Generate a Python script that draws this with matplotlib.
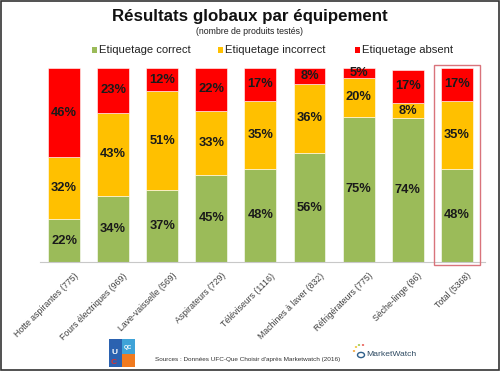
import matplotlib
matplotlib.use("Agg")
import matplotlib.pyplot as plt
from matplotlib.patches import Rectangle, Circle
import matplotlib.transforms as mtrans
import numpy as np

categories = ["Hotte aspirantes (775)", "Fours électriques (969)", "Lave-vaisselle (569)",
              "Aspirateurs (729)", "Téléviseurs (1116)", "Machines à laver (832)",
              "Réfrigérateurs (775)", "Sèche-linge (86)", "Total (5368)"]
correct = [22, 34, 37, 45, 48, 56, 75, 74, 48]
incorrect = [32, 43, 51, 33, 35, 36, 20, 8, 35]
absent = [46, 23, 12, 22, 17, 8, 5, 17, 17]
series_names = ["Etiquetage correct", "Etiquetage incorrect", "Etiquetage absent"]
colors = ["#9BBB59", "#FFC000", "#FF0000"]

plt.rcParams['font.family'] = ['Liberation Sans', 'DejaVu Sans']

W, H = 500, 371
fig = plt.figure(figsize=(5, 3.71), dpi=100)

def fx(x):
    return x / W

def fy(y):
    return 1 - y / H

ax_l, ax_r, ax_t, ax_b = 40, 485, 68, 262
ax = fig.add_axes([fx(ax_l), fy(ax_b), fx(ax_r - ax_l), (ax_b - ax_t) / H])

x = np.arange(len(categories))
bw = 0.65
bottom = np.zeros(len(categories))
for vals, col in zip([correct, incorrect, absent], colors):
    vals = np.array(vals, dtype=float)
    ax.bar(x, vals, bw, bottom=bottom, color=col, edgecolor="white", linewidth=0.4)
    for xi, b, v in zip(x, bottom, vals):
        ax.text(xi, b + v / 2, f"{int(v)}%", ha="center", va="center",
                fontsize=9.3, fontweight="bold", color="#1a1a1a")
    bottom += vals

spacing = 49.1
ax.set_xlim(-(64 - ax_l) / spacing, (ax_r - 64) / spacing)
ax.set_ylim(0, 100)
ax.set_yticks([])
ax.set_xticks(x)
ax.set_xticklabels(categories, rotation=45, ha="right", rotation_mode="anchor",
                   fontsize=6.3, color="#404040")
ax.tick_params(axis="x", length=0, pad=9)
offset = mtrans.ScaledTranslation(13 / 100, 0, fig.dpi_scale_trans)
for lbl in ax.get_xticklabels():
    lbl.set_va("center")
    lbl.set_transform(lbl.get_transform() + offset)
for s in ["top", "right", "left"]:
    ax.spines[s].set_visible(False)
ax.spines["bottom"].set_color("#c8c8c8")
ax.spines["bottom"].set_linewidth(0.8)

# Title
fig.text(fx(250), fy(16), "Résultats globaux par équipement", ha="center", va="center",
         fontsize=12.2, fontweight="bold", color="#111111")
fig.text(fx(250), fy(32), "(nombre de produits testés)", ha="center", va="center",
         fontsize=6.3, color="#222222")

# Legend
leg_sq = [94, 220, 357]
for sx, name, col in zip(leg_sq, series_names, colors):
    fig.patches.append(Rectangle((fx(sx - 2.5), fy(52.5)), 5 / W, 5 / H, transform=fig.transFigure,
                                 facecolor=col, edgecolor="none"))
    fig.text(fx(sx + 5), fy(50), name, ha="left", va="center", fontsize=8.1, color="#222222")

# Red highlight box around Total
fig.patches.append(Rectangle((fx(434), fy(265)), (480 - 434) / W, (265 - 65) / H,
                             transform=fig.transFigure, facecolor="none",
                             edgecolor="#D9737B", linewidth=1.0))

# Source text
fig.text(fx(155), fy(360), "Sources : Données UFC-Que Choisir d'après Marketwatch (2016)",
         ha="left", va="center", fontsize=4.6, color="#333333")

# UFC logo (simple)
fig.patches.append(Rectangle((fx(109), fy(367)), 26 / W, 28 / H, transform=fig.transFigure,
                             facecolor="#2B62B0", edgecolor="none"))
fig.patches.append(Rectangle((fx(122), fy(367)), 13 / W, 13 / H, transform=fig.transFigure,
                             facecolor="#F07A1F", edgecolor="none"))
fig.patches.append(Rectangle((fx(122), fy(354)), 13 / W, 15 / H, transform=fig.transFigure,
                             facecolor="#3FA3D8", edgecolor="none"))
fig.text(fx(114), fy(352), "U", ha="center", va="center", fontsize=6, color="white", fontweight="bold")
fig.text(fx(114), fy(362), "C", ha="center", va="center", fontsize=6, color="#E03030", fontweight="bold")
fig.text(fx(128), fy(347), "QC", ha="center", va="center", fontsize=4, color="white", fontweight="bold")

# MarketWatch logo
fig.patches.append(Circle((fx(361), fy(355)), 3.5 / W, transform=fig.transFigure,
                          facecolor="none", edgecolor="#2E5F8A", linewidth=1.0))
for (dx, dy, c) in [(-5, -8, "#F2C12E"), (-2, -10, "#9BC53D"), (2, -10, "#E8554E"), (-7, -4, "#F29E2E")]:
    fig.patches.append(Circle((fx(361 + dx), fy(355 + dy)), 1.2 / W, transform=fig.transFigure,
                              facecolor=c, edgecolor="none"))
fig.text(fx(366), fy(355), "MarketWatch", ha="left", va="center", fontsize=6.1, color="#2E4A62")

# Outer border
fig.patches.append(Rectangle((0.002, 0.003), 0.995, 0.994, transform=fig.transFigure,
                             facecolor="none", edgecolor="#333333", linewidth=1.2))

fig.savefig("out.png", dpi=100, facecolor="white")
